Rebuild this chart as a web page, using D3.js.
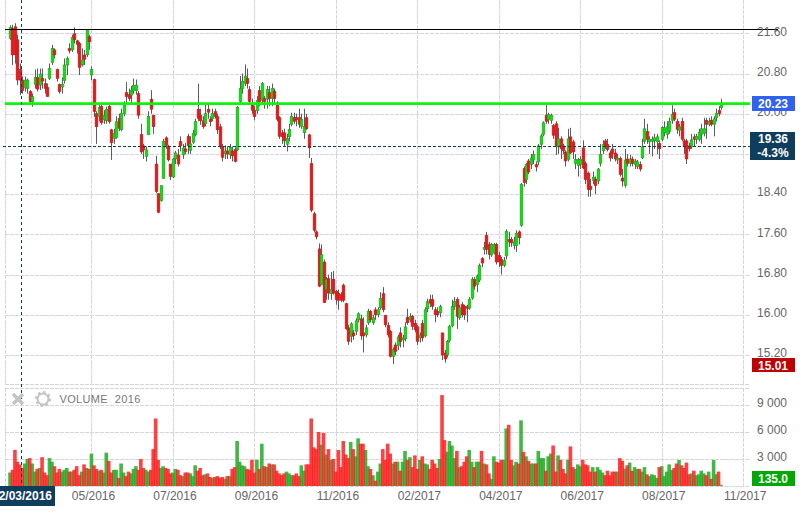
<!DOCTYPE html>
<html><head><meta charset="utf-8">
<style>html,body{margin:0;padding:0;background:#fff;overflow:hidden}svg{display:block}text{font-family:"Liberation Sans",Arial,sans-serif}</style>
<script src="https://cdnjs.cloudflare.com/ajax/libs/d3/7.8.5/d3.min.js"></script>
</head><body><svg id="c" width="802" height="517"></svg>
<script>
const opens=[21.50,21.70,21.73,21.47,20.88,20.67,20.52,20.50,20.44,20.24,
20.58,20.72,20.57,20.70,20.60,20.52,20.70,21.02,21.27,20.88,
20.58,20.53,20.66,20.97,21.30,21.27,21.59,21.45,21.40,20.97,
21.17,21.17,21.53,20.77,20.68,20.00,19.95,20.14,19.88,19.86,
20.15,19.68,19.51,19.53,19.91,19.68,20.00,20.42,20.38,20.37,
20.46,20.46,20.40,19.59,19.36,19.15,19.58,20.29,19.97,19.00,
18.41,18.27,18.71,19.52,19.35,19.00,18.74,19.10,19.18,19.45,
19.18,19.30,19.55,19.27,19.43,19.58,20.09,19.97,19.86,19.80,
20.09,19.89,19.90,20.04,19.94,19.74,19.34,19.20,19.26,19.18,
19.26,19.29,19.28,20.24,20.50,20.60,20.70,20.48,20.17,20.07,
20.06,20.46,20.27,20.30,20.29,20.42,20.30,20.45,20.19,19.92,
19.62,19.62,19.39,19.54,19.79,19.92,19.92,19.92,19.75,19.62,
19.92,19.58,19.01,18.01,17.65,17.31,16.60,17.05,16.50,16.72,
16.42,16.71,16.47,16.43,16.40,16.59,16.22,15.74,15.57,15.64,
15.67,15.90,15.92,15.64,15.60,15.84,16.07,15.84,16.10,16.00,
16.14,16.42,15.99,15.79,15.67,15.17,15.40,15.39,15.64,15.50,
15.52,15.95,15.90,15.97,15.83,15.76,15.54,15.83,15.58,16.12,
16.30,16.30,16.10,16.07,16.04,15.64,15.24,15.20,15.49,15.78,
16.17,16.31,15.94,16.20,16.17,16.17,16.13,16.33,16.70,16.60,
16.69,17.12,17.30,17.58,17.40,17.19,17.23,17.40,17.18,17.10,
16.98,17.17,17.50,17.50,17.38,17.38,17.65,17.78,18.91,18.69,
19.06,18.99,19.08,18.99,19.04,19.39,19.59,19.97,19.89,19.87,
19.77,19.80,19.34,19.50,19.36,19.24,19.09,19.54,19.44,19.01,
18.97,18.99,19.32,19.01,18.82,18.56,18.67,18.70,18.66,19.01,
19.26,19.46,19.39,19.22,19.30,19.22,19.08,19.11,18.72,18.57,
19.10,19.01,19.10,18.99,18.95,18.99,19.12,19.45,19.65,19.44,
19.46,19.46,19.44,19.41,19.49,19.62,19.59,19.65,19.87,20.02,
19.85,19.67,19.85,19.46,19.46,19.36,19.34,19.54,19.49,19.49,
19.59,19.61,19.87,19.79,19.87,19.79,19.92,20.07,20.12];
const closes=[21.72,21.17,21.17,20.67,20.67,20.46,20.67,20.67,20.24,20.34,
20.72,20.49,20.79,20.65,20.50,20.34,20.90,21.30,21.17,20.70,
20.44,20.59,20.97,21.10,21.25,21.52,21.47,21.38,20.92,21.07,
21.08,21.67,21.43,20.88,20.04,19.74,20.12,19.82,19.97,20.09,
19.84,19.42,19.61,19.84,19.71,20.00,20.17,20.34,20.30,20.47,
20.57,20.57,19.97,19.24,19.28,19.28,19.95,20.09,19.74,18.45,
18.04,18.57,19.45,19.37,19.08,18.75,19.10,19.22,19.00,19.36,
19.32,19.25,19.36,19.40,19.61,19.85,19.91,19.86,19.74,20.00,
20.03,19.84,20.01,19.94,19.68,19.34,19.13,19.26,19.20,19.33,
19.16,19.05,20.13,20.50,20.64,20.75,20.60,20.24,20.07,19.94,
20.27,20.24,20.60,20.24,20.48,20.30,20.50,20.30,19.89,19.55,
19.54,19.46,19.51,19.69,19.95,19.85,19.89,19.79,19.89,19.75,
19.70,19.32,18.08,17.68,17.55,16.57,17.20,16.24,16.70,16.43,
16.50,16.43,16.30,16.29,16.29,16.29,15.72,15.47,15.82,15.58,
15.88,16.02,15.58,15.58,15.74,16.07,15.90,15.94,16.00,16.10,
16.33,16.10,15.80,15.60,15.17,15.31,15.27,15.56,15.47,15.54,
15.76,15.84,15.97,15.77,15.70,15.47,15.60,15.54,16.10,16.26,
16.23,16.17,16.00,16.00,16.16,15.20,15.12,15.47,15.77,16.17,
16.26,15.97,16.14,16.00,16.00,16.13,16.31,16.71,16.57,16.77,
16.98,17.03,17.34,17.30,17.20,17.40,17.40,17.05,17.05,16.98,
17.08,17.66,17.45,17.43,17.45,17.62,17.53,18.60,18.63,18.99,
18.84,19.12,19.19,18.94,19.36,19.56,19.82,19.85,19.98,19.97,
19.57,19.36,19.50,19.30,19.26,19.06,19.50,19.22,19.24,19.09,
19.09,19.09,18.92,18.69,18.49,18.49,18.74,18.57,18.90,19.19,
19.39,19.36,19.29,19.12,19.21,19.10,19.12,18.79,18.66,19.08,
19.01,19.10,19.01,19.06,19.04,18.90,19.34,19.70,19.49,19.49,
19.49,19.52,19.54,19.30,19.73,19.72,19.74,19.85,19.99,19.89,
19.69,19.74,19.49,19.34,19.10,19.30,19.48,19.49,19.55,19.63,
19.70,19.70,19.79,19.85,19.79,19.90,20.01,20.00,20.21];
const highs=[21.76,21.77,21.80,21.57,21.00,20.74,20.74,20.70,20.47,20.40,
20.88,20.90,20.90,20.90,20.70,20.60,21.00,21.37,21.30,20.90,
20.60,20.72,21.10,21.14,21.40,21.57,21.72,21.47,21.43,21.30,
21.27,21.68,21.57,20.94,20.70,20.05,20.20,20.20,20.07,20.14,
20.20,19.70,19.70,19.95,20.00,20.10,20.25,20.63,20.50,20.55,
20.70,20.68,20.45,19.80,19.40,19.35,20.05,20.47,19.98,19.16,
18.41,18.57,19.50,19.55,19.38,19.00,19.12,19.26,19.30,19.55,
19.40,19.42,19.60,19.55,19.68,19.90,20.60,20.10,19.95,20.20,
20.20,19.95,20.10,20.10,20.00,19.80,19.40,19.37,19.35,19.40,
19.35,19.33,20.15,20.75,20.80,20.98,20.90,20.55,20.30,20.15,
20.35,20.55,20.63,20.35,20.55,20.55,20.60,20.50,20.25,19.95,
19.68,19.70,19.60,19.80,20.02,20.02,20.00,20.10,20.00,20.10,
20.00,19.60,19.12,18.05,17.68,17.42,17.40,17.10,16.75,16.80,
16.85,16.87,16.50,16.50,16.45,16.62,16.24,15.80,15.85,15.70,
15.93,16.05,16.00,15.95,15.80,16.12,16.10,16.00,16.15,16.15,
16.45,16.55,16.00,15.85,15.70,15.35,15.45,15.60,15.75,15.60,
15.85,16.12,16.03,16.00,15.90,15.80,15.65,15.90,16.15,16.32,
16.40,16.40,16.15,16.15,16.20,15.64,15.30,15.50,15.80,16.30,
16.35,16.35,16.20,16.25,16.20,16.20,16.35,16.75,16.75,16.80,
17.02,17.15,17.45,17.65,17.45,17.43,17.43,17.43,17.25,17.15,
17.15,17.70,17.65,17.55,17.55,17.68,17.68,18.62,18.95,19.02,
19.10,19.20,19.27,19.05,19.40,19.60,19.85,20.17,20.02,20.00,
19.80,19.85,19.72,19.55,19.40,19.27,19.70,19.72,19.48,19.20,
19.12,19.15,19.47,19.05,18.85,18.70,18.85,18.75,18.92,19.40,
19.47,19.50,19.50,19.27,19.40,19.30,19.20,19.15,18.90,19.30,
19.20,19.18,19.15,19.10,19.08,19.05,19.50,19.90,19.80,19.55,
19.55,19.60,19.60,19.47,19.75,19.85,19.85,19.92,20.17,20.10,
19.90,19.80,19.92,19.50,19.50,19.42,19.60,19.60,19.60,19.70,
19.80,19.92,19.92,19.92,19.95,19.95,20.10,20.15,20.30];
const lows=[21.47,20.97,21.00,20.57,20.37,20.40,20.44,20.40,20.20,20.14,
20.50,20.44,20.47,20.50,20.40,20.34,20.67,20.97,21.10,20.64,
20.40,20.40,20.60,20.77,21.20,21.23,21.40,21.20,20.77,20.94,
20.97,21.13,21.27,20.67,19.94,19.40,19.85,19.78,19.80,19.80,
19.80,19.08,19.40,19.50,19.65,19.65,19.95,20.20,20.25,20.20,
20.40,20.38,19.90,19.20,19.10,19.05,19.58,20.00,19.60,18.42,
18.02,18.25,18.71,19.30,19.05,18.68,18.72,19.00,18.95,19.25,
19.10,19.20,19.20,19.20,19.40,19.55,19.85,19.78,19.70,19.75,
19.90,19.75,19.85,19.90,19.60,19.30,19.05,19.10,19.10,19.10,
19.05,19.03,19.26,20.20,20.40,20.55,20.50,20.18,20.00,19.87,
20.00,20.15,20.20,20.10,20.10,20.15,20.15,20.20,19.85,19.50,
19.40,19.35,19.25,19.45,19.75,19.80,19.75,19.72,19.70,19.50,
19.68,19.12,18.04,17.64,17.50,16.55,16.60,16.24,16.30,16.30,
16.30,16.40,16.20,16.10,16.25,16.25,15.70,15.40,15.45,15.50,
15.60,15.85,15.50,15.25,15.55,15.80,15.85,15.80,15.90,15.95,
16.10,16.05,15.75,15.55,15.15,15.02,15.20,15.30,15.35,15.35,
15.47,15.80,15.85,15.70,15.65,15.40,15.45,15.47,15.55,16.05,
16.15,16.10,15.85,15.95,15.95,15.10,15.05,15.15,15.45,15.75,
16.10,15.72,15.90,15.95,15.90,15.85,16.10,16.30,16.50,16.45,
16.65,16.95,17.20,17.20,17.10,17.15,17.20,17.00,16.95,16.80,
16.95,17.10,17.35,17.35,17.30,17.25,17.40,17.75,18.55,18.60,
18.80,18.90,19.00,18.85,18.98,19.30,19.55,19.80,19.80,19.80,
19.50,19.18,19.20,19.10,19.20,18.95,19.05,19.20,19.10,18.90,
18.75,18.90,18.90,18.60,18.35,18.35,18.60,18.40,18.60,18.95,
19.20,19.30,19.25,19.05,19.10,19.05,19.00,18.75,18.55,18.53,
18.95,18.95,18.95,18.90,18.90,18.85,19.10,19.40,19.40,19.20,
19.15,19.30,19.20,19.10,19.45,19.55,19.50,19.60,19.80,19.85,
19.60,19.55,19.45,19.20,19.00,19.25,19.30,19.35,19.40,19.45,
19.40,19.55,19.50,19.75,19.75,19.55,19.85,19.95,20.08];
const volumes=[1500,1800,4000,2700,2400,2000,2500,3000,3100,2500,
1600,1900,2000,3200,1500,1200,3100,2700,2200,1500,
1900,1600,1800,2000,1600,1600,1800,2200,1200,1600,
2400,2000,1900,3600,2300,1900,1700,1800,1500,3700,
2800,1500,1800,1800,900,2500,1500,1100,1600,1400,
1900,2200,1800,3000,2000,1800,1600,1800,4100,7500,
2900,2000,2200,2000,1900,1400,1500,1900,1800,1200,
1100,1500,1500,1400,1100,2300,1700,2000,1200,1300,
1400,1000,900,1000,1100,900,1000,800,1100,1100,
1900,2100,5000,2700,2300,2200,1900,1800,2900,1500,
2900,1900,4700,2200,2100,2500,2400,2400,1700,1400,
1200,1400,1600,1400,1200,1200,1400,1100,2300,1700,
2400,2400,7500,4300,4100,6000,4600,5900,3500,4100,
2900,3000,1600,4000,2100,5000,3500,3100,4900,4100,
3300,5300,4700,4700,4000,2200,1900,1200,600,1600,
2500,4100,2900,4700,3600,2500,2700,2700,1700,2700,
3900,2900,3200,2100,3400,1900,2900,3300,2500,2400,
1900,2900,2500,2000,3000,10100,5100,3800,5000,4500,
3100,3900,2100,2200,2700,3300,4000,2700,2100,2700,
2700,3900,2500,2400,1400,800,3300,2700,2600,2900,
2900,6400,6800,2900,2300,2700,2500,7300,3800,3300,
2800,2500,2500,2500,3900,3100,3100,1700,3300,3600,
4500,1600,3400,2900,1900,1400,2900,4400,2100,1900,
2400,2200,2900,2400,2300,1600,2100,1600,2100,1800,
1500,1200,1700,1200,1600,1600,1600,3100,2800,1900,
2300,2600,1700,2100,1900,1900,1600,2100,1300,1100,
1300,1200,900,2100,2200,1100,1600,2400,1800,2000,
2500,2900,2300,2000,2600,1300,1400,1700,1200,1300,
1700,1400,1200,1600,800,2900,1300,1600,135];
const priceTicks=[21.6,20.8,20.0,19.2,18.4,17.6,16.8,16.0,15.2];
const volumeTicks=[9000,6000,3000];
const dateTickBars=[33,66,99,132,165,198,231,264,297];
const dateTickLabels=["05/2016","07/2016","09/2016","11/2016","02/2017","04/2017","06/2017","08/2017","11/2017"];
const highLine=21.67, greenLine=20.2, dashedPrice=19.36;

const svg=d3.select("#c");
const x=d3.scaleLinear().domain([0,288]).range([10,721]);
const y=d3.scaleLinear().domain([15.2,21.6]).range([355,33.3]);
const yv=d3.scaleLinear().domain([0,9000]).range([486,405]);
const L=5,R=750,GRID="#d6d4dc";
const grid=svg.append("g").attr("fill","none").attr("stroke",GRID).attr("stroke-dasharray","4,1");
[[0,384],[388,486]].forEach(([a,b])=>{
  grid.selectAll(null).data([...dateTickBars.map(d=>x(d))]).join("line")
    .attr("x1",d=>Math.round(d)+.5).attr("x2",d=>Math.round(d)+.5).attr("y1",a).attr("y2",b);
  grid.append("line").attr("x1",L+.5).attr("x2",L+.5).attr("y1",a).attr("y2",b);
});
grid.selectAll(null).data(priceTicks).join("line").attr("x1",L).attr("x2",R).attr("y1",d=>Math.round(y(d))+.5).attr("y2",d=>Math.round(y(d))+.5);
grid.selectAll(null).data([...volumeTicks,0]).join("line").attr("x1",L).attr("x2",R).attr("y1",d=>Math.round(yv(d))+.5).attr("y2",d=>Math.round(yv(d))+.5);
grid.append("line").attr("x1",L).attr("x2",R).attr("y1",384.5).attr("y2",384.5);
grid.append("line").attr("x1",L).attr("x2",R).attr("y1",388.5).attr("y2",388.5);

// volume bars: green first, red on top, each translucent so overlaps darken
const idx=d3.range(opens.length);
const up=i=>closes[i]>=opens[i];
const vg=svg.append("g");
[idx.filter(up),idx.filter(i=>!up(i))].forEach((set,k)=>{
  vg.selectAll(null).data(set).join("rect")
    .attr("x",i=>x(i)-1.8).attr("width",3.6)
    .attr("y",i=>yv(volumes[i])).attr("height",i=>yv(0)-yv(volumes[i]))
    .attr("fill",k?"#ff2020":"#22aa22").attr("fill-opacity",.85);
});

// candles
const cg=svg.append("g");
cg.selectAll("line").data(idx).join("line")
  .attr("x1",i=>Math.round(x(i))+.5).attr("x2",i=>Math.round(x(i))+.5)
  .attr("y1",i=>y(highs[i])).attr("y2",i=>y(lows[i]))
  .attr("stroke","#5c5c5c").attr("stroke-width",1);
cg.selectAll("rect").data(idx).join("rect")
  .attr("x",i=>Math.round(x(i))-.9).attr("width",2.8)
  .attr("y",i=>y(Math.max(opens[i],closes[i])))
  .attr("height",i=>Math.max(2,Math.abs(y(opens[i])-y(closes[i]))))
  .attr("fill",i=>up(i)?"#0fe00f":"#ee1515")
  .attr("stroke",i=>up(i)?"#2c8f2c":"#a82a2a").attr("stroke-width",.5);

// level lines
const navy="#0f3d5c";
svg.append("line").attr("x1",L).attr("x2",778).attr("y1",Math.floor(y(highLine))+.5).attr("y2",Math.floor(y(highLine))+.5).attr("stroke","#000").attr("stroke-width",1);
svg.append("line").attr("x1",L).attr("x2",R).attr("y1",y(greenLine)).attr("y2",y(greenLine)).attr("stroke","#0df50d").attr("stroke-width",2.6);
svg.append("line").attr("x1",3).attr("x2",R).attr("y1",Math.round(y(dashedPrice))+.5).attr("y2",Math.round(y(dashedPrice))+.5).attr("stroke",navy).attr("stroke-dasharray","3,2");
svg.append("line").attr("x1",21.5).attr("x2",21.5).attr("y1",0).attr("y2",486).attr("stroke",navy).attr("stroke-dasharray","3,3");

// axes
const axisStyle=g=>{g.select(".domain").remove();g.selectAll(".tick line").remove();
  g.selectAll("text").attr("fill","#666").style("font-size","12px").style("font-family",'"Liberation Sans",Arial,sans-serif');};
svg.append("g").attr("transform","translate(757,-2)").call(d3.axisRight(y).tickValues(priceTicks).tickSize(0).tickPadding(0).tickFormat(d3.format(".2f"))).call(axisStyle);
svg.append("g").attr("transform","translate(757,-2)").call(d3.axisRight(yv).tickValues(volumeTicks).tickSize(0).tickPadding(0).tickFormat(d=>d3.format(",")(d).replace(","," "))).call(axisStyle);
svg.append("g").attr("transform","translate(1.5,491)").call(d3.axisBottom(x).tickValues(dateTickBars).tickSize(0).tickPadding(0).tickFormat((d,i)=>dateTickLabels[i])).call(axisStyle);

// boxes
function box(x0,y0,w,h,fill,lines){
  svg.append("rect").attr("x",x0).attr("y",y0).attr("width",w).attr("height",h).attr("fill",fill);
  lines.forEach((t,i)=>svg.append("text").attr("x",773).attr("y",y0+(lines.length>1?11+i*14:h/2+4.5)).attr("text-anchor","middle")
    .attr("fill","#fff").attr("font-weight","bold").attr("font-size",12).text(t));
}
box(752,96,43,15,"#2f62f0",["20.23"]);
box(750,132,45,28,navy,["19.36","-4.3%"]);
box(752,358,43,14,"#c00000",["15.01"]);
box(752,471,43,15,"#00a800",["135.0"]);
svg.append("rect").attr("x",0).attr("y",486).attr("width",55).attr("height",20).attr("fill",navy);
svg.append("text").attr("x",22).attr("y",500).attr("text-anchor","middle").attr("fill","#fff").attr("font-weight","bold").attr("font-size",12).text("02/03/2016");

// panel header
const ic=svg.append("g").attr("stroke","#c4c4c4").attr("fill","none");
ic.append("path").attr("d","M13 394L23 404M23 394L13 404").attr("stroke-width",3.5);
ic.append("circle").attr("cx",43).attr("cy",399).attr("r",5.5).attr("stroke-width",2);
ic.append("circle").attr("cx",43).attr("cy",399).attr("r",7).attr("stroke-width",2).attr("stroke-dasharray","2.5,3");
svg.append("text").attr("x",59.5).attr("y",403).attr("fill","#777").attr("font-size",11).attr("letter-spacing",".35").attr("xml:space","preserve").text("VOLUME  2016");
</script></body></html>
